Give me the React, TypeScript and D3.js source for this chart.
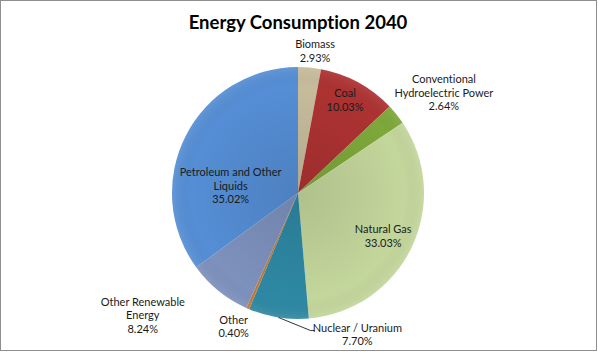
import { useEffect, useRef } from 'react';
import * as d3 from 'd3';

const title = 'Energy Consumption 2040';
const categories = [
  'Biomass',
  'Coal',
  'Conventional Hydroelectric Power',
  'Natural Gas',
  'Nuclear / Uranium',
  'Other',
  'Other Renewable Energy',
  'Petroleum and Other Liquids',
];
const shares = [2.93, 10.03, 2.64, 33.03, 7.7, 0.4, 8.24, 35.02];
const colors = ['#c6bc9c', '#ad3232', '#7ea83a', '#c3d69b', '#2e88a3', '#c27a35', '#7d91bd', '#558ed5'];
// how each label is broken into lines
const labelLines = [
  ['Biomass'],
  ['Coal'],
  ['Conventional', 'Hydroelectric Power'],
  ['Natural Gas'],
  ['Nuclear / Uranium'],
  ['Other'],
  ['Other Renewable', 'Energy'],
  ['Petroleum and Other', 'Liquids'],
];

const W = 598;
const H = 352;
const cx = 298;
const cy = 193;
const R = 126;

// label placement: radius factor along the slice's mid angle, then a nudge
const labelLayout: Record<string, { k: number; dx: number; dy: number; leader?: boolean }> = {
  Biomass: { k: 1.13, dx: 4, dy: 0 },
  Coal: { k: 0.83, dx: -3, dy: -1 },
  'Conventional Hydroelectric Power': { k: 1.4, dx: 8, dy: 10 },
  'Natural Gas': { k: 0.75, dx: 0, dy: 2 },
  'Nuclear / Uranium': { k: 1.0, dx: 79, dy: 17, leader: true },
  Other: { k: 1.18, dx: -5, dy: -3 },
  'Other Renewable Energy': { k: 1.35, dx: -48, dy: -10 },
  'Petroleum and Other Liquids': { k: 0.6, dx: 0, dy: 27 },
};

export default function App() {
  const ref = useRef<SVGSVGElement>(null);

  useEffect(() => {
    const svg = d3.select(ref.current);
    svg.selectAll('*').remove();

    svg.append('rect')
      .attr('x', 0.5).attr('y', 0.5)
      .attr('width', W - 2).attr('height', H - 2)
      .attr('fill', '#fff')
      .attr('stroke', '#8e8e8e');

    svg.append('text')
      .attr('x', cx)
      .attr('y', 29)
      .attr('text-anchor', 'middle')
      .attr('font-family', 'Lato, sans-serif')
      .attr('font-weight', 'bold')
      .attr('font-size', 18.5)
      .style('font-variant-ligatures', 'none')
      .attr('fill', '#000')
      .text(title);

    const data = categories.map((c, i) => ({ name: c, value: shares[i], color: colors[i], lines: labelLines[i] }));
    const pie = d3.pie<any>().sort(null).value(d => d.value);
    const arcs = pie(data);
    const arc = d3.arc<any>().innerRadius(0).outerRadius(R);

    const defs = svg.append('defs');
    const grad = defs.append('radialGradient')
      .attr('id', 'shade')
      .attr('gradientUnits', 'userSpaceOnUse')
      .attr('cx', cx).attr('cy', cy).attr('r', R);
    grad.append('stop').attr('offset', '0%').attr('stop-color', '#000').attr('stop-opacity', 0.1);
    grad.append('stop').attr('offset', '85%').attr('stop-color', '#000').attr('stop-opacity', 0);
    grad.append('stop').attr('offset', '100%').attr('stop-color', '#fff').attr('stop-opacity', 0.08);

    const g = svg.append('g').attr('transform', `translate(${cx},${cy})`);
    g.selectAll('path.slice')
      .data(arcs)
      .join('path')
      .attr('class', 'slice')
      .attr('d', arc)
      .attr('fill', d => d.data.color);

    svg.append('circle')
      .attr('cx', cx).attr('cy', cy).attr('r', R)
      .attr('fill', 'url(#shade)');

    const polar = (a: number, r: number) => [Math.sin(a) * r, -Math.cos(a) * r];
    const lineH = 13.5;

    arcs.forEach(d => {
      const lay = labelLayout[d.data.name];
      const mid = (d.startAngle + d.endAngle) / 2;
      const [px, py] = polar(mid, R * lay.k);
      const tx = px + lay.dx;
      const ty = py + lay.dy;
      const lines = [...d.data.lines, d.data.value.toFixed(2) + '%'];
      const n = lines.length;

      if (lay.leader) {
        const x0 = px, y0 = py;
        const x2 = tx - 43, y2 = ty - 4;
        g.append('path')
          .attr('d', `M${x0},${y0}L${x2 - 4},${y2}L${x2},${y2}`)
          .attr('fill', 'none')
          .attr('stroke', '#000')
          .attr('stroke-width', 0.8);
      }

      const t = g.append('text')
        .attr('text-anchor', 'middle')
        .attr('font-family', 'Lato, sans-serif')
        .attr('font-size', 11)
        .style('font-variant-ligatures', 'none')
        .attr('fill', '#1a1a1a');
      lines.forEach((s, i) => {
        t.append('tspan')
          .attr('x', tx)
          .attr('y', ty + (i - (n - 1) / 2) * lineH + 4)
          .text(s);
      });
    });
  }, []);

  return (
    <svg
      ref={ref}
      width={W}
      height={H}
      style={{ position: 'absolute', left: 0, top: 0, display: 'block' }}
    />
  );
}
